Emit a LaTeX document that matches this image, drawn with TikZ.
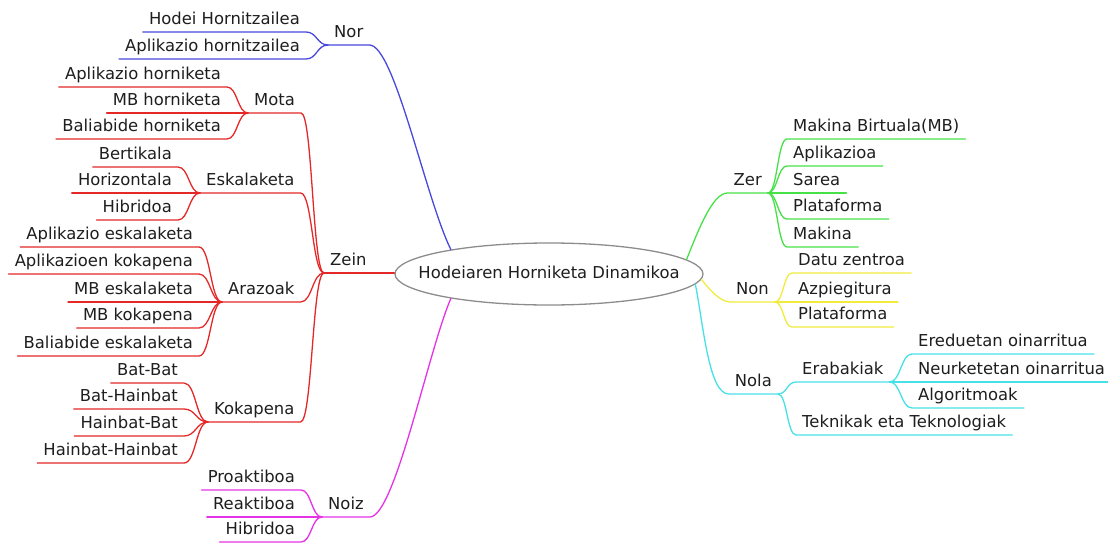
\documentclass[tikz,border=0pt]{standalone}
\usepackage{fontspec}
\setmainfont{DejaVu Sans}
\usetikzlibrary{calc,shapes.geometric}

\definecolor{txt}{RGB}{30,30,30}
\definecolor{rim}{RGB}{140,140,140}
\definecolor{cNor}{RGB}{72,72,220}
\definecolor{cZein}{RGB}{228,40,40}
\definecolor{cNoiz}{RGB}{230,50,230}
\definecolor{cZer}{RGB}{70,225,70}
\definecolor{cNon}{RGB}{240,235,60}
\definecolor{cNola}{RGB}{70,225,230}

\tikzset{
  topic/.style={inner xsep=6pt, inner ysep=3pt, text height=12pt, text depth=4pt,
    font=\fontsize{16.4}{19}\selectfont, text=txt},
  lt/.style={topic, anchor=south east},
  rt/.style={topic, anchor=south west},
  branch/.style={line width=1.3pt, line cap=round},
  % brace-like S curve, horizontal at both ends
  fork/.style={to path={.. controls ($(\tikztostart)!0.5!(\tikztostart -| \tikztotarget)$)
    and ($(\tikztotarget)!0.5!(\tikztotarget -| \tikztostart)$) .. (\tikztotarget)}},
  % level child: plain straight run
  flat/.style={to path={-- (\tikztotarget)}},
}

\begin{document}
\begin{tikzpicture}[x=1pt,y=-1pt]
\useasboundingbox (0,0) rectangle (1108,543);

% central topic
\node[ellipse, draw=rim, line width=1.3pt, minimum width=308pt, minimum height=62pt,
  inner sep=0pt, text height=12pt, text depth=4pt, font=\fontsize{16.4}{19}\selectfont, text=txt]
  (root) at (549,274) {\makebox[0pt]{Hodeiaren Horniketa Dinamikoa}};

% ---- left side ----
\node[rt] (nor) at (328,45) {Nor};
\node[lt] (nor1) at (306,32) {Hodei Hornitzailea};
\node[lt] (nor2) at (306,59) {Aplikazio hornitzailea};

\node[rt] (zein) at (324,273) {Zein};

\node[rt] (mota) at (248,113) {Mota};
\node[lt] (mota1) at (227,87) {Aplikazio horniketa};
\node[lt] (mota2) at (227,113) {MB horniketa};
\node[lt] (mota3) at (227,139) {Baliabide horniketa};

\node[rt] (eska) at (200,193) {Eskalaketa};
\node[lt] (eska1) at (178,167) {Bertikala};
\node[lt] (eska2) at (178,193) {Horizontala};
\node[lt] (eska3) at (178,220) {Hibridoa};

\node[rt] (araz) at (222,302) {Arazoak};
\node[lt] (araz1) at (199,247) {Aplikazio eskalaketa};
\node[lt] (araz2) at (199,274) {Aplikazioen kokapena};
\node[lt] (araz3) at (199,302) {MB eskalaketa};
\node[lt] (araz4) at (199,328) {MB kokapena};
\node[lt] (araz5) at (199,356) {Baliabide eskalaketa};

\node[rt] (koka) at (208,422) {Kokapena};
\node[lt] (koka1) at (184,383) {Bat-Bat};
\node[lt] (koka2) at (184,409) {Bat-Hainbat};
\node[lt] (koka3) at (184,436) {Hainbat-Bat};
\node[lt] (koka4) at (184,463) {Hainbat-Hainbat};

\node[rt] (noiz) at (322,517) {Noiz};
\node[lt] (noiz1) at (301,490) {Proaktiboa};
\node[lt] (noiz2) at (301,517) {Reaktiboa};
\node[lt] (noiz3) at (301,542) {Hibridoa};

% ---- right side ----
\node[lt] (zer) at (768,193) {Zer};
\node[rt] (zer1) at (787,139) {Makina Birtuala(MB)};
\node[rt] (zer2) at (787,166) {Aplikazioa};
\node[rt] (zer3) at (787,193) {Sarea};
\node[rt] (zer4) at (787,219) {Plataforma};
\node[rt] (zer5) at (787,247) {Makina};

\node[lt] (non) at (775,302) {Non};
\node[rt] (non1) at (792,273) {Datu zentroa};
\node[rt] (non2) at (792,302) {Azpiegitura};
\node[rt] (non3) at (792,327) {Plataforma};

\node[lt] (nola) at (778,394) {Nola};
\node[rt] (erab) at (796,382) {Erabakiak};
\node[rt] (tekn) at (796,435) {Teknikak eta Teknologiak};
\node[rt] (erab1) at (912,354) {Ereduetan oinarritua};
\node[rt] (erab2) at (912,382) {Neurketetan oinarritua};
\node[rt] (erab3) at (912,408) {Algoritmoak};

% ---- connectors: main branches ----
\draw[branch, cNor] (nor.south west) -- (nor.south east)
  .. controls +(25,0) and +(-25,-50) .. (root.166);
\draw[branch, cZein] (zein.south west) -- (zein.south east) -- (zein.south east -| root.west);
\draw[branch, cNoiz] (noiz.south west) -- (noiz.south east)
  .. controls +(25,0) and +(-22,50) .. (root.194);
\draw[branch, cZer] (zer.south east) -- (zer.south west)
  .. controls +(-15,0) and +(12,-30) .. (root.6);
\draw[branch, cNon] (non.south east) -- (non.south west)
  .. controls +(-10,0) and +(6,8) .. (root.-2);
\draw[branch, cNola] (nola.south east) -- (nola.south west)
  .. controls +(-20,0) and +(8,40) .. (root.-4.4);

% ---- connectors: sub-branches on the left ----
\foreach \c/\p in {mota/zein, eska/zein, araz/zein, koka/zein}
  \draw[branch, cZein] (\c.south west) -- (\c.south east) to[fork] (\p.south west);
\foreach \c/\s in {nor1/fork, nor2/fork}
  \draw[branch, cNor] (\c.south west) -- (\c.south east) to[\s] (nor.south west);
\foreach \c/\p/\s in {mota1/mota/fork, mota2/mota/flat, mota3/mota/fork,
                   eska1/eska/fork, eska2/eska/flat, eska3/eska/fork,
                   araz1/araz/fork, araz2/araz/fork, araz3/araz/flat,
                   araz4/araz/fork, araz5/araz/fork,
                   koka1/koka/fork, koka2/koka/fork, koka3/koka/fork, koka4/koka/fork}
  \draw[branch, cZein] (\c.south west) -- (\c.south east) to[\s] (\p.south west);
\foreach \c/\s in {noiz1/fork, noiz2/flat, noiz3/fork}
  \draw[branch, cNoiz] (\c.south west) -- (\c.south east) to[\s] (noiz.south west);

% ---- connectors: sub-branches on the right ----
\foreach \c/\s in {zer1/fork, zer2/fork, zer3/flat, zer4/fork, zer5/fork}
  \draw[branch, cZer] (zer.south east) to[\s] (\c.south west) -- (\c.south east);
\foreach \c/\s in {non1/fork, non2/flat, non3/fork}
  \draw[branch, cNon] (non.south east) to[\s] (\c.south west) -- (\c.south east);
\foreach \c in {erab, tekn}
  \draw[branch, cNola] (nola.south east) to[fork] (\c.south west) -- (\c.south east);
\foreach \c/\s in {erab1/fork, erab2/flat, erab3/fork}
  \draw[branch, cNola] (erab.south east) to[\s] (\c.south west) -- (\c.south east);
\end{tikzpicture}
\end{document}
